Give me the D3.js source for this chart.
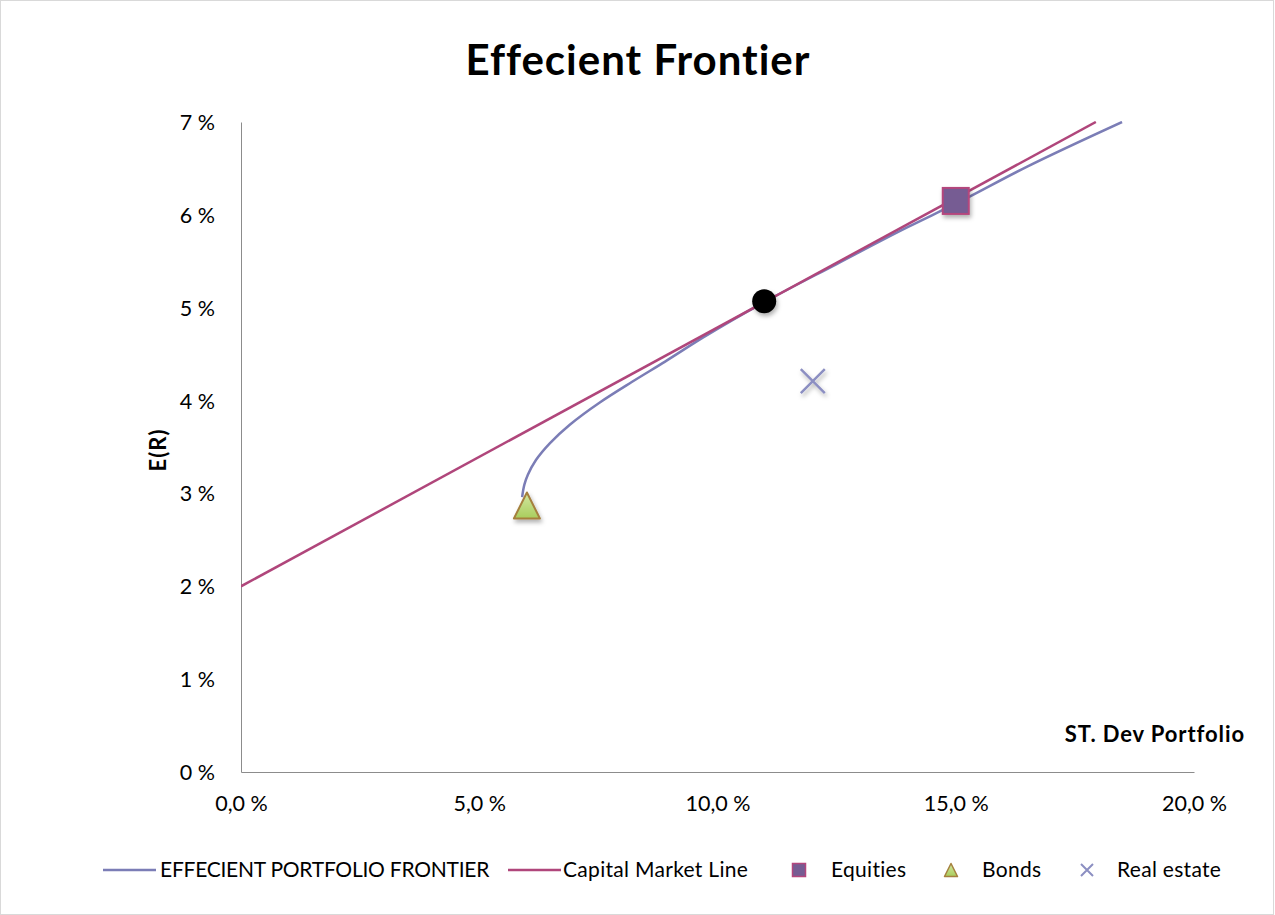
<!DOCTYPE html>
<html>
<head>
<meta charset="utf-8">
<script src="https://cdn.jsdelivr.net/npm/d3@7"></script>
<style>
  html, body { margin: 0; padding: 0; background: #fff; }
  svg { display: block; }
  text { font-family: Lato, "Open Sans", sans-serif; fill: #000; }
</style>
</head>
<body>
<script>
// Efficient frontier (standard deviation %, expected return %)
const frontierSigma  = [5.90, 5.95, 6.02, 6.19, 6.48, 6.90, 7.53, 8.20, 8.90, 9.70, 10.98, 12.50, 14.00, 15.00, 16.50, 18.49];
const frontierReturn = [2.96, 3.10, 3.20, 3.36, 3.54, 3.74, 3.98, 4.20, 4.42, 4.68, 5.06, 5.47, 5.87, 6.12, 6.52, 7.00];

// Capital market line from the risk-free rate
const cmlSigma  = [0, 17.94];
const cmlReturn = [2.0, 7.0];

// Single assets and the tangency portfolio
const equities   = { sigma: 15.0,  ret: 6.15 };
const bonds      = { sigma: 6.0,   ret: 2.87 };
const realEstate = { sigma: 12.0,  ret: 4.21 };
const tangency   = { sigma: 10.98, ret: 5.07 };

// Axis ticks
const xTicks = [0, 5, 10, 15, 20];
const xTickLabels = ["0,0 %", "5,0 %", "10,0 %", "15,0 %", "20,0 %"];
const yTicks = [0, 1, 2, 3, 4, 5, 6, 7];
const yTickLabels = ["0 %", "1 %", "2 %", "3 %", "4 %", "5 %", "6 %", "7 %"];

const legendItems = [
  { label: "EFFECIENT PORTFOLIO FRONTIER", type: "line", color: "#7B7DB6" },
  { label: "Capital Market Line", type: "line", color: "#B0467B" },
  { label: "Equities", type: "square" },
  { label: "Bonds", type: "triangle" },
  { label: "Real estate", type: "x" }
];

const W = 1275, H = 915;
const plot = { left: 241, right: 1194, top: 122, bottom: 772 };

const svg = d3.select("body").append("svg").attr("width", W).attr("height", H);

const defs = svg.append("defs");
const shadow = defs.append("filter").attr("id", "shadow")
  .attr("x", "-50%").attr("y", "-50%").attr("width", "200%").attr("height", "200%");
shadow.append("feDropShadow").attr("dx", 1.5).attr("dy", 3).attr("stdDeviation", 2)
  .attr("flood-color", "#000").attr("flood-opacity", 0.3);
const triGrad = defs.append("linearGradient").attr("id", "triGrad")
  .attr("x1", 0).attr("y1", 0).attr("x2", 0).attr("y2", 1);
triGrad.append("stop").attr("offset", "0%").attr("stop-color", "#D3E7A3");
triGrad.append("stop").attr("offset", "100%").attr("stop-color", "#A9CD5C");

// Outer frame
svg.append("rect").attr("x", 0.5).attr("y", 0.5).attr("width", W - 2).attr("height", H - 1)
  .attr("fill", "#fff").attr("stroke", "#D9D9D9");

// Title
svg.append("text").attr("x", 638).attr("y", 75).attr("text-anchor", "middle")
  .style("font-size", "42px").style("font-weight", "bold").style("letter-spacing", "1px")
  .text("Effecient Frontier");

const x = d3.scaleLinear().domain([0, 20]).range([plot.left, plot.right]);
const y = d3.scaleLinear().domain([0, 7]).range([plot.bottom, plot.top]);

// Axes (no tick marks, labels only)
const xAxis = d3.axisBottom(x).tickValues(xTicks).tickSize(0).tickPadding(24)
  .tickFormat((d, i) => xTickLabels[i]);
const yAxis = d3.axisLeft(y).tickValues(yTicks).tickSize(0).tickPadding(26)
  .tickFormat((d, i) => yTickLabels[i]);

const gx = svg.append("g").attr("transform", `translate(0,${plot.bottom})`).call(xAxis);
const gy = svg.append("g").attr("transform", `translate(${plot.left},0)`).call(yAxis);
[gx, gy].forEach(g => {
  g.select(".domain").attr("stroke", "#8C8C8C").attr("stroke-width", 1);
  g.selectAll("text").style("font-family", "Lato, sans-serif").style("font-size", "21.5px").attr("fill", "#000");
});
gy.selectAll("text").attr("dy", "0.35em");

// Axis titles
svg.append("text").attr("transform", "translate(166,450) rotate(-90)").attr("text-anchor", "middle")
  .style("font-size", "22px").style("font-weight", "bold").style("letter-spacing", "1px").text("E(R)");
svg.append("text").attr("x", 1245).attr("y", 742).attr("text-anchor", "end")
  .style("font-size", "22px").style("font-weight", "bold").style("letter-spacing", "0.9px")
  .text("ST. Dev Portfolio");

defs.append("clipPath").attr("id", "plotClip").append("rect")
  .attr("x", plot.left).attr("y", plot.top - 1).attr("width", plot.right - plot.left).attr("height", plot.bottom - plot.top + 1);

const lineGen = d3.line().x(d => x(d[0])).y(d => y(d[1])).curve(d3.curveMonotoneY);
const marks = svg.append("g").attr("clip-path", "url(#plotClip)");

marks.append("path").datum(d3.zip(frontierSigma, frontierReturn))
  .attr("d", lineGen).attr("fill", "none").attr("stroke", "#7B7DB6").attr("stroke-width", 2.5);

marks.append("path").datum(d3.zip(cmlSigma, cmlReturn))
  .attr("d", d3.line().x(d => x(d[0])).y(d => y(d[1])))
  .attr("fill", "none").attr("stroke", "#B0467B").attr("stroke-width", 2.5);

// Marker drawing helpers
function squareMarker(g, cx, cy, s) {
  g.append("rect").attr("x", cx - s / 2).attr("y", cy - s / 2).attr("width", s).attr("height", s)
    .attr("fill", "#765C93").attr("stroke", "#B4467D").attr("stroke-width", s > 15 ? 2 : 1.5);
}
function triangleMarker(g, cx, cy, s) {
  const h = s;
  g.append("path")
    .attr("d", `M${cx},${cy - h / 2}L${cx + s / 2},${cy + h / 2}L${cx - s / 2},${cy + h / 2}Z`)
    .attr("fill", "url(#triGrad)").attr("stroke", "#A5803E").attr("stroke-width", s > 15 ? 2 : 1.5)
    .attr("stroke-linejoin", "round");
}
function xMarker(g, cx, cy, s) {
  const r = s / 2;
  g.append("path").attr("d", `M${cx - r},${cy - r}L${cx + r},${cy + r}M${cx - r},${cy + r}L${cx + r},${cy - r}`)
    .attr("stroke", "#8C8FC2").attr("stroke-width", s > 15 ? 2.5 : 2).attr("fill", "none");
}

const pts = svg.append("g").attr("filter", "url(#shadow)");
squareMarker(pts, x(equities.sigma), y(equities.ret), 26);
triangleMarker(pts, x(bonds.sigma), y(bonds.ret), 26);
xMarker(pts, x(realEstate.sigma), y(realEstate.ret), 24);
pts.append("circle").attr("cx", x(tangency.sigma)).attr("cy", y(tangency.ret)).attr("r", 12)
  .attr("fill", "#000");

// Legend
const legendPos = [103, 508, 792, 944, 1080];
const legendTextX = [160, 563, 831, 982, 1117];
const legendSpacing = ["-0.25px", "0.3px", "0.3px", "0.3px", "0.3px"];
const ly = 870;
const legend = svg.append("g");
legendItems.forEach((it, i) => {
  const lx = legendPos[i];
  if (it.type === "line") {
    legend.append("line").attr("x1", lx).attr("x2", lx + 53).attr("y1", ly).attr("y2", ly)
      .attr("stroke", it.color).attr("stroke-width", 2.5);
  } else if (it.type === "square") {
    squareMarker(legend, lx + 7, ly, 13);
  } else if (it.type === "triangle") {
    triangleMarker(legend, lx + 7, ly, 13);
  } else {
    xMarker(legend, lx + 7, ly, 12);
  }
  legend.append("text").attr("x", legendTextX[i]).attr("y", ly).attr("dy", "0.35em")
    .style("font-size", "21px").style("letter-spacing", legendSpacing[i]).text(it.label);
});
</script>
</body>
</html>
